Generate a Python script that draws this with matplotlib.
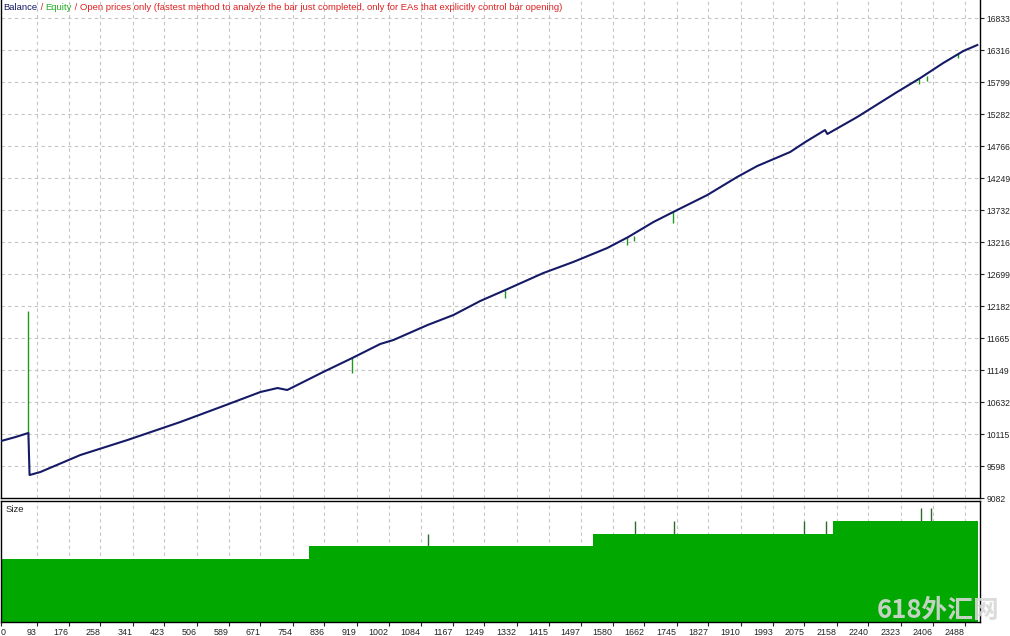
import matplotlib
matplotlib.use("Agg")
import matplotlib.pyplot as plt
import numpy as np

# ---------------- data ----------------
balance_x = [0, 39, 72, 75, 103, 206, 328, 464, 568, 671, 715, 740, 766, 833, 908,
             980, 1014, 1102, 1169, 1238, 1303, 1401, 1478, 1566, 1620, 1685, 1736,
             1824, 1901, 1953, 2038, 2077, 2128, 2134, 2211, 2314, 2374, 2433, 2485, 2521]
balance_v = [10000, 10067, 10132, 9453, 9502, 9776, 10019, 10309, 10551, 10794, 10858,
             10826, 10907, 11117, 11343, 11569, 11633, 11875, 12037, 12263, 12441, 12715,
             12893, 13119, 13296, 13538, 13700, 13974, 14265, 14443, 14669, 14830, 15024,
             14960, 15234, 15638, 15864, 16106, 16300, 16397]

# equity excursions away from balance (x, from, to)
equity_spike_x = [72, 908, 1303, 1617, 1636, 1736, 2370, 2390, 2470]
equity_spike_from = [10132, 11343, 12441, 13290, 13320, 13700, 15850, 15890, 16270]
equity_spike_to = [12101, 11100, 12312, 13170, 13230, 13522, 15770, 15810, 16180]

size_edges = [0, 797, 1530, 2149, 2523]
size_values = [0.5, 0.6, 0.7, 0.8]
size_spike_x = [1104, 1638, 1739, 2074, 2131, 2376, 2402]
size_spike_v = [0.7, 0.8, 0.8, 0.8, 0.8, 0.9, 0.9]

y_ticks = [9082, 9598, 10115, 10632, 11149, 11665, 12182, 12699, 13216, 13732,
           14249, 14766, 15282, 15799, 16316, 16833]
x_ticks = [0, 93, 176, 258, 341, 423, 506, 589, 671, 754, 836, 919, 1002, 1084, 1167,
           1249, 1332, 1415, 1497, 1580, 1662, 1745, 1827, 1910, 1993, 2075, 2158,
           2240, 2323, 2406, 2488]

# ---------------- style ----------------
NAVY = "#151a66"
EQ_GREEN = "#1f9a1f"
FILL_GREEN = "#00a800"
GRID = "#c4c4c4"
FONT = "Liberation Sans"
plt.rcParams["font.family"] = [FONT, "DejaVu Sans"]

W, H = 1010, 636
fig = plt.figure(figsize=(W / 100, H / 100), dpi=100)
fig.patch.set_facecolor("white")

left = 0.5 / W
right_px = 980
ax = fig.add_axes([left, (H - 498) / H, (right_px - 0.5) / W, 498 / H])
ax2 = fig.add_axes([left, (H - 622) / H, (right_px - 0.5) / W, (622 - 501) / H])

XMIN, XMAX = 0, 2528
for a in (ax, ax2):
    a.set_xlim(XMIN, XMAX)
    for s in a.spines.values():
        s.set_color("black")
        s.set_linewidth(1.0)
    a.set_xticks(x_ticks)
    a.grid(False)
    for xt in x_ticks[1:]:
        a.axvline(xt, color=GRID, lw=0.8, ls=(0, (3, 3)), zorder=0)
ax.spines["top"].set_visible(False)

# main panel
ax.set_ylim(9082, 17124)
for yt in y_ticks[1:]:
    ax.axhline(yt, color=GRID, lw=0.8, ls=(0, (3, 3)), zorder=0)
ax.vlines(equity_spike_x, equity_spike_from, equity_spike_to, color=EQ_GREEN, lw=1.0, zorder=2)
ax.plot(balance_x, balance_v, color=NAVY, lw=1.5, zorder=3, solid_joinstyle="round")
ax.yaxis.tick_right()
ax.set_yticks(y_ticks)
ax.set_yticklabels([str(v) for v in y_ticks], fontsize=6.2, color="#222222")
ax.tick_params(axis="y", direction="out", length=3, width=0.8, pad=1.5, colors="#222222")
ax.tick_params(axis="x", length=0, labelbottom=False)

# legend / title text with multiple colours
FS = 6.8
t1 = ax.text(3 / right_px, 1 - 7 / 498, "Balance", transform=ax.transAxes, fontsize=FS,
             color=NAVY, va="center", ha="left")
t2 = ax.annotate(" / ", xy=(1, 0.5), xycoords=t1, fontsize=FS, color="#cc2222", va="center", ha="left")
t3 = ax.annotate("Equity", xy=(1, 0.5), xycoords=t2, fontsize=FS, color="#22aa22", va="center", ha="left")
t4 = ax.annotate(" / Open prices only (fastest method to analyze the bar just completed, only for EAs that explicitly control bar opening)",
                 xy=(1, 0.5), xycoords=t3, fontsize=FS, color="#dd2222", va="center", ha="left")

# size panel
ax2.set_ylim(0, 0.958)
ax2.stairs(size_values, size_edges, fill=True, color=FILL_GREEN, baseline=0, zorder=2)
ax2.vlines(size_spike_x, 0, size_spike_v, color="#2d6b2d", lw=1.0, zorder=1.5)
ax2.set_yticks([])
ax2.text(5 / right_px, 1 - 8 / 121, "Size", transform=ax2.transAxes, fontsize=FS,
         color="#222222", va="center", ha="left")
ax2.set_xticklabels([str(v) for v in x_ticks], fontsize=6.4, color="#222222")
ax2.tick_params(axis="x", direction="out", length=3, width=0.8, pad=1.5, colors="#222222")
for i, lab in enumerate(ax2.get_xticklabels()):
    lab.set_horizontalalignment("left" if i == 0 else "right")

# watermark
fig.text(877 / W, 1 - 611 / H, "618外汇网", fontsize=18.5, color="#d8d8d8", alpha=0.9,
         family=["Noto Sans CJK SC", "DejaVu Sans"], fontweight="bold", va="center", ha="left",
         zorder=10)

fig.savefig("out.png", dpi=100, facecolor="white")
